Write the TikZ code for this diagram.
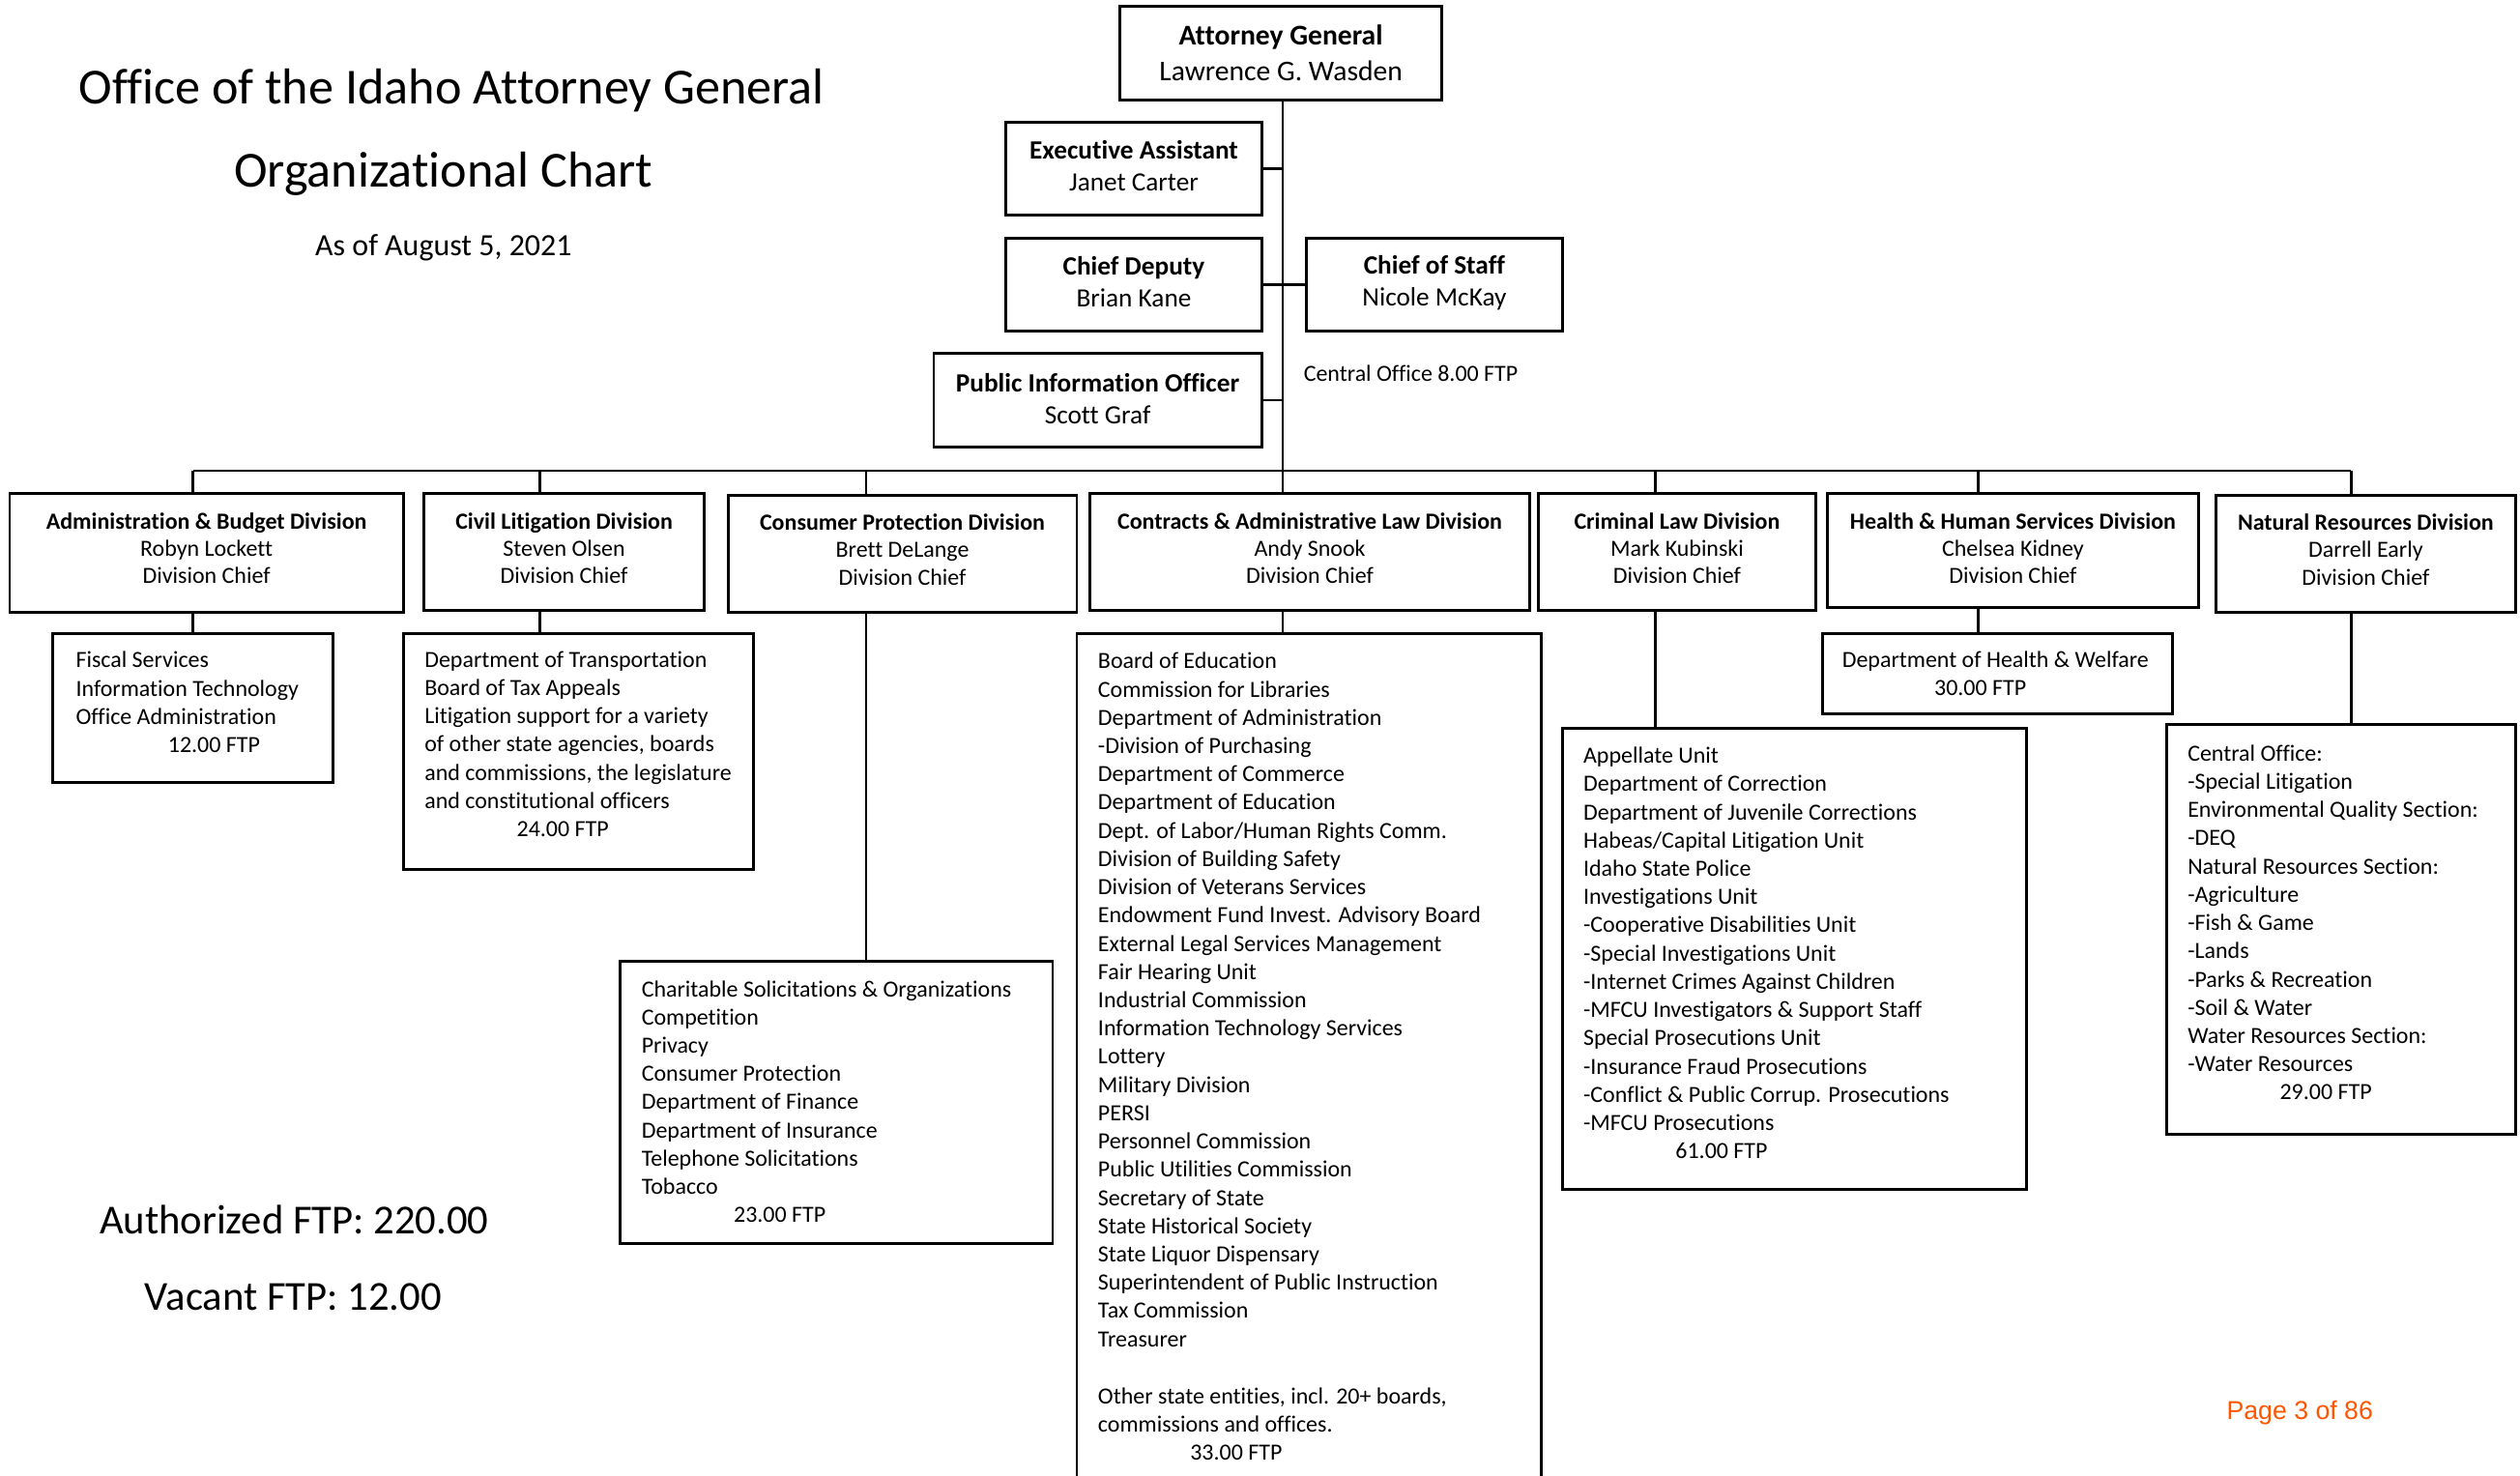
\documentclass[tikz,border=0pt]{standalone}
\usepackage{fontspec}
\setmainfont{Carlito}[Ligatures=NoCommon]
\newfontfamily\pagefont{Liberation Sans}
\usetikzlibrary{fit}
\definecolor{pageorange}{RGB}{255,85,0}
\newcommand{\ftpline}[1]{\hspace*{17.2mm}#1 FTP}

\begin{document}
\begin{tikzpicture}[x=0.3mm,y=-0.3mm,
      box/.style={draw,line width=1.5pt,inner sep=0pt},
      toptext/.style={align=center,inner sep=0pt,font=\fontsize{14}{17}\selectfont},
      divtext/.style={align=center,inner sep=0pt,font=\fontsize{12.3}{14.5}\selectfont},
      list/.style={anchor=west,align=left,inner sep=0pt,font=\fontsize{12.3}{15}\selectfont},
      link/.style={line width=1.3pt}]
      \path[use as bounding box,fill=white] (0,0) rectangle (1568,918);
      \clip (0,0) rectangle (1568,918);
      % titles
      \node[font=\fontsize{26.8}{30}\selectfont] (title) at (281,56) {Office of the Idaho Attorney General};
      \node[font=\fontsize{26.8}{30}\selectfont] (subtitle) at (276,108) {Organizational Chart};
      \node[font=\fontsize{16.4}{19}\selectfont] (asof) at (276,154) {As of August 5, 2021};
      \node[font=\fontsize{21.9}{24}\selectfont] (authftp) at (183,759) {Authorized FTP: 220.00};
      \node[font=\fontsize{21.9}{24}\selectfont] (vacftp) at (182.5,807) {Vacant FTP: 12.00};
      \node[font=\pagefont\fontsize{13.7}{16}\selectfont,text=pageorange] (pagenum) at (1431,879) {Page 3 of 86};
      % front office
      \node[box,fit={(697,4) (897,62)}] (ag) {};
      \node[box,fit={(626,76) (785,134)}] (exec) {};
      \node[box,fit={(626,148) (785,206)}] (cdep) {};
      \node[box,fit={(813,148) (972,206)}] (cos) {};
      \node[box,fit={(581,220) (785,278)}] (pio) {};
      \node[toptext,font=\fontsize{15.2}{18.7}\selectfont] (ag-t) at (ag.center) {\textbf{Attorney General}\\Lawrence G. Wasden};
      \node[toptext] (exec-t) at ([yshift=0.6mm]exec.center) {\textbf{Executive Assistant}\\Janet Carter};
      \node[toptext] (cdep-t) at ([yshift=0.45mm]cdep.center) {\textbf{Chief Deputy}\\Brian Kane};
      \node[toptext] (cos-t) at ([yshift=0.3mm]cos.center) {\textbf{Chief of Staff}\\Nicole McKay};
      \node[toptext] (pio-t) at ([yshift=0.3mm]pio.center) {\textbf{Public Information Officer}\\Scott Graf};
      \node[list] (central) at (811,232.5) {Central Office 8.00 FTP};
      \coordinate (spine) at (798,293);
      \coordinate (busL) at (120,293);
      \coordinate (busR) at (1463,293);
      \draw[link] (ag.south -| spine) -- (spine);
      \draw[link] (exec.east) -- (exec.east -| spine);
      \draw[link] (cdep.east) -- (cos.west);
      \draw[link] (pio.east) -- (pio.east -| spine);
      \draw[link] (busL) -- (busR);
      % divisions
      \node[box,fit={(6,307) (251,381)}] (admin) {};
      \node[box,fit={(264,307) (438,380)}] (civil) {};
      \node[box,fit={(453,308) (670,381)}] (consumer) {};
      \node[box,fit={(678,307) (952,380)}] (contracts) {};
      \node[box,fit={(957,307) (1130,380)}] (criminal) {};
      \node[box,fit={(1137,307) (1368,378)}] (health) {};
      \node[box,fit={(1379,308) (1565,381)}] (natural) {};
      \node[divtext] (admin-t) at ([yshift=0.85mm]admin.center) {\textbf{Administration \& Budget Division}\\Robyn Lockett\\Division Chief};
      \node[divtext] (civil-t) at ([yshift=0.75mm]civil.center) {\textbf{Civil Litigation Division}\\Steven Olsen\\Division Chief};
      \node[divtext] (consumer-t) at ([yshift=0.75mm]consumer.center) {\textbf{Consumer Protection Division}\\Brett DeLange\\Division Chief};
      \node[divtext] (contracts-t) at ([yshift=0.75mm]contracts.center) {\textbf{Contracts \& Administrative Law Division}\\Andy Snook\\Division Chief};
      \node[divtext] (criminal-t) at ([yshift=0.75mm]criminal.center) {\textbf{Criminal Law Division}\\Mark Kubinski\\Division Chief};
      \node[divtext] (health-t) at ([yshift=0.45mm]health.center) {\textbf{Health \& Human Services Division}\\Chelsea Kidney\\Division Chief};
      \node[divtext] (natural-t) at ([yshift=0.75mm]natural.center) {\textbf{Natural Resources Division}\\Darrell Early\\Division Chief};
      % units
      \node[box,fit={(33,394) (207,487)}] (adminsub) {};
      \node[box,fit={(251,394) (469,541)}] (civilsub) {};
      \node[box,fit={(386,598) (655,774)}] (conssub) {};
      \node[box,fit={(670,394) (959,940)}] (contsub) {};
      \node[box,fit={(972,453) (1261,740)}] (crimsub) {};
      \node[box,fit={(1134,394) (1352,444)}] (healthsub) {};
      \node[box,fit={(1348,451) (1565,706)}] (natsub) {};
      \foreach \dx/\dv/\sb in {120/admin/adminsub, 336/civil/civilsub, 539/consumer/conssub,
          798/contracts/contsub, 1030/criminal/crimsub, 1231/health/healthsub, 1463/natural/natsub}{
        \coordinate (drop) at (\dx,293);
        \draw[link] (drop) -- (drop |- \dv.north);
        \draw[link] (\dv.south -| drop) -- (drop |- \sb.north);
      }
      \node[list] (adminlist) at (47,437) {Fiscal Services\\Information Technology\\Office Administration\\\ftpline{12.00}};
      \node[list] (civillist) at (264,463) {Department of Transportation\\Board of Tax Appeals\\Litigation support for a variety\\of other state agencies, boards\\and commissions, the legislature\\and constitutional officers\\\ftpline{24.00}};
      \node[list] (conslist) at (399,685.5) {Charitable Solicitations \& Organizations\\Competition\\Privacy\\Consumer Protection\\Department of Finance\\Department of Insurance\\Telephone Solicitations\\Tobacco\\\ftpline{23.00}};
      \node[list] (contlist) at (683,657.5) {Board of Education\\Commission for Libraries\\Department of Administration\\-Division of Purchasing\\Department of Commerce\\Department of Education\\Dept. of Labor/Human Rights Comm.\\Division of Building Safety\\Division of Veterans Services\\Endowment Fund Invest. Advisory Board\\External Legal Services Management\\Fair Hearing Unit\\Industrial Commission\\Information Technology Services\\Lottery\\Military Division\\PERSI\\Personnel Commission\\Public Utilities Commission\\Secretary of State\\State Historical Society\\State Liquor Dispensary\\Superintendent of Public Instruction\\Tax Commission\\Treasurer\\[15.5pt]Other state entities, incl. 20+ boards,\\commissions and offices.\\\ftpline{33.00}};
      \node[list] (crimlist) at (985,593) {Appellate Unit\\Department of Correction\\Department of Juvenile Corrections\\Habeas/Capital Litigation Unit\\Idaho State Police\\Investigations Unit\\-Cooperative Disabilities Unit\\-Special Investigations Unit\\-Internet Crimes Against Children\\-MFCU Investigators \& Support Staff\\Special Prosecutions Unit\\-Insurance Fraud Prosecutions\\-Conflict \& Public Corrup. Prosecutions\\-MFCU Prosecutions\\\ftpline{61.00}};
      \node[list] (healthlist) at (1146,419) {Department of Health \& Welfare\\\ftpline{30.00}};
      \node[list] (natlist) at (1361,574) {Central Office:\\-Special Litigation\\Environmental Quality Section:\\-DEQ\\Natural Resources Section:\\-Agriculture\\-Fish \& Game\\-Lands\\-Parks \& Recreation\\-Soil \& Water\\Water Resources Section:\\-Water Resources\\\ftpline{29.00}};
    \end{tikzpicture}
\end{document}
